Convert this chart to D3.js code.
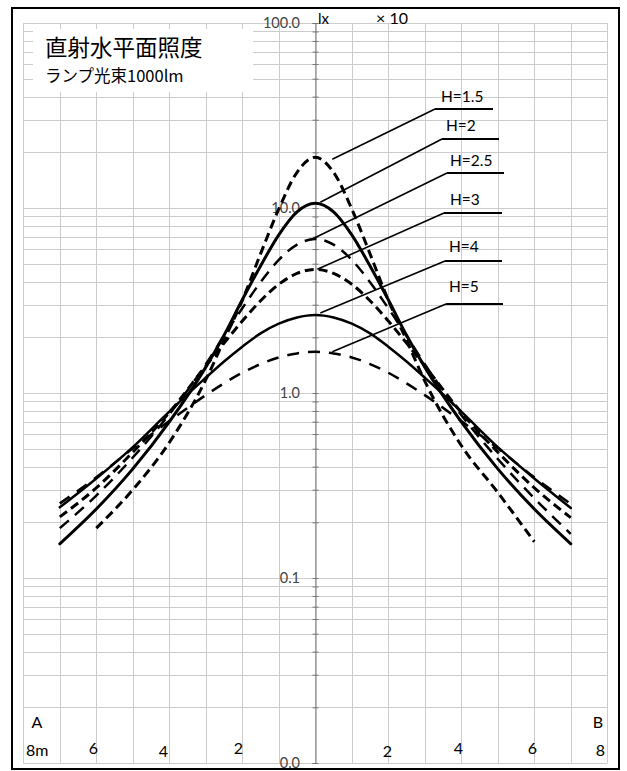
<!DOCTYPE html>
<html><head><meta charset="utf-8">
<script src="https://cdn.jsdelivr.net/npm/d3@7"></script>
<style>body{margin:0;background:#fff}svg{display:block}</style>
</head><body>
<script>
// ---- data ----
const xPositions = [-7,-6,-5,-4,-3,-2.5,-2,-1.5,-1,-0.5,0,0.5,1,1.5,2,2.5,3,4,5,6,7];
const seriesNames = ["H=1.5","H=2","H=2.5","H=3","H=4","H=5"];
const h15 = [null,0.186,0.30,0.54,1.18,1.93,3.17,5.65,9.88,15.6,18.8,15.6,9.88,5.65,3.17,1.93,1.16,0.52,0.29,0.157,null];
const h2  = [0.153,0.236,0.389,0.698,1.38,2.05,3.19,4.86,7.16,9.53,10.6,9.53,7.16,4.86,3.19,2.05,1.38,0.698,0.389,0.236,0.153];
const h25 = [0.186,0.279,0.448,0.767,1.43,2.04,2.87,3.97,5.24,6.34,6.8,6.34,5.24,3.97,2.87,2.04,1.43,0.76,0.44,0.27,0.173];
const h3  = [0.214,0.307,0.479,0.785,1.40,1.86,2.45,3.15,3.87,4.43,4.66,4.43,3.87,3.15,2.45,1.86,1.40,0.785,0.479,0.307,0.212];
const h4  = [0.241,0.345,0.510,0.793,1.21,1.48,1.78,2.10,2.37,2.56,2.64,2.56,2.37,2.10,1.78,1.48,1.21,0.793,0.510,0.345,0.239];
const h5  = [0.253,0.350,0.502,0.705,0.974,1.128,1.287,1.434,1.557,1.637,1.67,1.637,1.557,1.434,1.287,1.128,0.974,0.705,0.502,0.350,0.251];
const seriesValues = [h15,h2,h25,h3,h4,h5];
const yTickValues = [100,10,1,0.1,0.01];
const yTickLabels = ["100.0","10.0","1.0","0.1","0.0"];
const xTickValues = [-8,-6,-4,-2,2,4,6,8];
const xTickLabels = ["8m","6","4","2","2","4","6","8"];
const titleText = "直射水平面照度";
const subtitleText = "ランプ光束1000lm";

// ---- layout / styles ----
const W = 627, H = 771;
const L = 23.3, R = 607.3, T = 23, B = 763;
const FONT = "Lato, 'Liberation Sans', sans-serif";
const styles = [
  {w:3,   dash:"9,5"},
  {w:3,   dash:null},
  {w:2.5, dash:"12,8"},
  {w:3,   dash:"9,5"},
  {w:2.5, dash:null},
  {w:2.5, dash:"12,9"}
];
const labelLayout = [
  {tx:441, ty:102, ux1:435, ux2:493, uy:109, dx:17, dy:2},
  {tx:446, ty:131, ux1:442, ux2:499, uy:139, dx:5,  dy:-1},
  {tx:450, ty:166, ux1:447, ux2:504, uy:173, dx:-5, dy:1},
  {tx:450, ty:205, ux1:444, ux2:502, uy:213, dx:2,  dy:0},
  {tx:449, ty:252, ux1:445, ux2:502, uy:261, dx:5,  dy:-2},
  {tx:449, ty:292, ux1:446, ux2:503, uy:304, dx:17, dy:0}
];
const xLabelDx = [14, -3, -6, -4, -1, -3, -2, -7];
const xLabelY  = [756, 754, 757, 754, 757, 754, 754, 756];

const svg = d3.select("body").append("svg").attr("width", W).attr("height", H);
svg.append("rect").attr("width", W).attr("height", H).attr("fill", "#fff");

const x = d3.scaleLinear().domain([-8, 8]).range([L, R]);
const y = d3.scaleLog().domain([0.01, 100]).range([B, T]);

// grid
const g = svg.append("g");
const hVals = [];
for (let e = -2; e <= 1; e++) for (let m = 1; m <= 9; m++) hVals.push(m * Math.pow(10, e));
hVals.push(100);
g.selectAll("line.h").data(hVals).join("line")
  .attr("x1", L).attr("x2", R)
  .attr("y1", d => Math.round(y(d)) + 0.5).attr("y2", d => Math.round(y(d)) + 0.5)
  .attr("stroke", "#cccccc").attr("stroke-width", 1);
g.selectAll("line.v").data(d3.range(-8, 9)).join("line")
  .attr("x1", d => Math.round(x(d)) + 0.5).attr("x2", d => Math.round(x(d)) + 0.5)
  .attr("y1", T).attr("y2", B)
  .attr("stroke", "#cccccc").attr("stroke-width", 1);

// center axis with minor ticks
const axis = d3.axisLeft(y).tickValues(hVals).tickSize(3).tickFormat("");
const ag = svg.append("g").attr("transform", `translate(${Math.round(x(0)) + 0.5},0)`).call(axis);
ag.select(".domain").attr("stroke", "#777");
ag.selectAll(".tick line").attr("stroke", "#777").attr("x2", 3).attr("x1", -3);

// title box
svg.append("rect").attr("x", 33).attr("y", 29).attr("width", 220).attr("height", 63).attr("fill", "#fff");
svg.append("text").attr("x", 45).attr("y", 56).attr("font-family", "'Noto Sans CJK JP', sans-serif")
  .attr("font-size", 22.5).attr("fill", "#000").text(titleText);
svg.append("text").attr("x", 45).attr("y", 82).attr("font-family", "'Noto Sans CJK JP', sans-serif")
  .attr("font-size", 16.5).attr("fill", "#000").text(subtitleText);

// y tick labels
svg.selectAll("text.yl").data(yTickValues).join("text")
  .attr("x", 300).attr("y", d => y(d) + 5)
  .attr("text-anchor", "end").attr("font-family", FONT)
  .attr("font-size", 14.5).attr("fill", "#444")
  .text((d, i) => yTickLabels[i]);
svg.append("text").attr("x", 318).attr("y", 24).attr("font-family", FONT)
  .attr("font-size", 15).attr("fill", "#000").text("lx");
svg.append("text").attr("x", 376).attr("y", 24).attr("font-family", FONT)
  .attr("font-size", 16).attr("fill", "#000").text("× 10");

// x labels
svg.selectAll("text.xl").data(xTickValues).join("text")
  .attr("x", (d, i) => x(d) + xLabelDx[i]).attr("y", (d, i) => xLabelY[i])
  .attr("text-anchor", "middle").attr("font-family", FONT)
  .attr("font-size", 16).attr("fill", "#000")
  .text((d, i) => xTickLabels[i]);
svg.append("text").attr("x", 37).attr("y", 728).attr("text-anchor", "middle")
  .attr("font-family", FONT).attr("font-size", 16).text("A");
svg.append("text").attr("x", 598).attr("y", 728).attr("text-anchor", "middle")
  .attr("font-family", FONT).attr("font-size", 16).text("B");

// curves
const line = d3.line()
  .defined(d => d[1] != null)
  .x(d => x(d[0])).y(d => y(d[1]))
  .curve(d3.curveMonotoneX);
seriesValues.forEach((vals, i) => {
  const pts = xPositions.map((xv, j) => [xv, vals[j]]);
  svg.append("path").attr("d", line(pts)).attr("fill", "none")
    .attr("stroke", "#000").attr("stroke-width", styles[i].w)
    .attr("stroke-dasharray", styles[i].dash)
    .attr("stroke-linecap", styles[i].dash ? "butt" : "round");
});

// labels with leaders
seriesNames.forEach((name, i) => {
  const lay = labelLayout[i];
  const peak = seriesValues[i][xPositions.indexOf(0)];
  const px = x(0) + lay.dx, py = y(peak) + lay.dy;
  svg.append("line").attr("x1", lay.ux1).attr("y1", lay.uy).attr("x2", px).attr("y2", py)
    .attr("stroke", "#000").attr("stroke-width", 1.6);
  svg.append("line").attr("x1", lay.ux1).attr("y1", lay.uy).attr("x2", lay.ux2).attr("y2", lay.uy)
    .attr("stroke", "#000").attr("stroke-width", 2.2);
  svg.append("text").attr("x", lay.tx).attr("y", lay.ty).attr("font-family", FONT)
    .attr("font-size", 15.5).attr("fill", "#000").text(name);
});

// outer frame
svg.append("rect").attr("x", 12).attr("y", 8).attr("width", 607).attr("height", 761)
  .attr("fill", "none").attr("stroke", "#000").attr("stroke-width", 2);
</script>
</body></html>
